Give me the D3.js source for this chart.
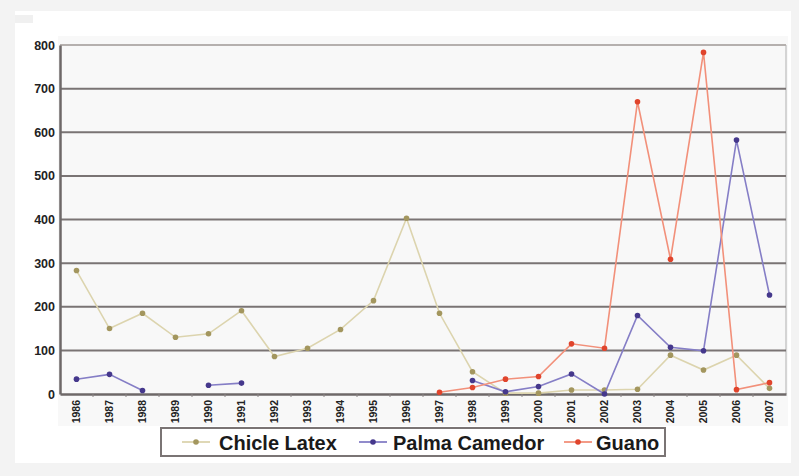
<!DOCTYPE html>
<html><head><meta charset="utf-8">
<script src="https://cdn.jsdelivr.net/npm/d3@7"></script>
<style>
body{margin:0;background:#f3f3f3;}
svg{display:block;font-family:"Liberation Sans",Arial,sans-serif;}
</style></head>
<body><svg id="c" width="799" height="476"></svg>
<script>
const years = ["1986","1987","1988","1989","1990","1991","1992","1993","1994","1995","1996","1997","1998","1999","2000","2001","2002","2003","2004","2005","2006","2007"];
const chicleLatex = [283,150,185,130,138,191,86,105,148,214,403,185,51,2,2,9,9,11,89,55,89,13];
const palmaCamedor = [34,45,8,null,20,25,null,null,null,null,null,null,31,5,17,46,0,180,107,99,582,227];
const guano = [null,null,null,null,null,null,null,null,null,null,null,4,15,34,40,115,105,670,309,783,10,26];
const yTicks = [0,100,200,300,400,500,600,700,800];
const seriesNames = ["Chicle Latex","Palma Camedor","Guano"];

const series = [
  {name:seriesNames[0], values:chicleLatex, line:"#dcd4ae", dot:"#a3965e"},
  {name:seriesNames[1], values:palmaCamedor, line:"#857ec6", dot:"#45388c"},
  {name:seriesNames[2], values:guano, line:"#f2907a", dot:"#e0442c"}
];

const svg = d3.select("#c");
svg.append("rect").attr("x",15).attr("y",11).attr("width",776).attr("height",452).attr("fill","#ffffff");
svg.append("rect").attr("x",15).attr("y",15).attr("width",18).attr("height",8).attr("fill","#f0f0f0");

const m = {left:60, right:786, top:45, bottom:394};
const x = d3.scaleBand().domain(years).range([m.left, m.right]);
const y = d3.scaleLinear().domain([0,800]).range([m.bottom, m.top]);

svg.append("rect").attr("x",58).attr("y",36).attr("width",730).attr("height",390).attr("fill","#f8f8f8");
svg.append("line").attr("x1",m.right).attr("x2",m.right).attr("y1",m.top).attr("y2",m.bottom).attr("stroke","#c8c8c8").attr("stroke-width",1.5);

svg.append("g").selectAll("line").data(yTicks.filter(d=>d>0)).join("line")
  .attr("x1",m.left).attr("x2",m.right)
  .attr("y1",d=>y(d)).attr("y2",d=>y(d))
  .attr("stroke",d=>d===800?"#b5b0ae":"#7a7474").attr("stroke-width",2);

const yAxis = svg.append("g").attr("transform",`translate(${m.left},0)`)
  .call(d3.axisLeft(y).tickValues(yTicks).tickSize(0).tickPadding(5));
yAxis.select(".domain").attr("stroke","#6e6868").attr("stroke-width",2.5);
yAxis.selectAll("text").attr("font-size",12.5).attr("font-weight","bold").attr("fill","#222");

const xAxis = svg.append("g").attr("transform",`translate(0,${m.bottom})`)
  .call(d3.axisBottom(x).tickSize(0).tickSizeOuter(0));
xAxis.select(".domain").attr("stroke","#6e6868").attr("stroke-width",2.5);
xAxis.selectAll("text")
  .attr("transform","rotate(-90)")
  .attr("text-anchor","end")
  .attr("x",-6).attr("y",0).attr("dy","0.35em")
  .attr("font-size",10.5).attr("font-weight","bold").attr("fill","#222");
svg.append("g").selectAll("line").data(years.slice(1)).join("line")
  .attr("x1",d=>x(d)).attr("x2",d=>x(d)).attr("y1",m.bottom).attr("y2",m.bottom+3)
  .attr("stroke","#8a8484").attr("stroke-width",1);

const line = d3.line().defined(d=>d.v!==null).x(d=>x(d.k)+x.bandwidth()/2).y(d=>y(d.v));
series.forEach(s=>{
  const pts = years.map((k,i)=>({k, v:s.values[i]}));
  svg.append("path").datum(pts).attr("d",line).attr("fill","none")
    .attr("stroke",s.line).attr("stroke-width",1.6);
  svg.append("g").selectAll("circle").data(pts.filter(d=>d.v!==null)).join("circle")
    .attr("cx",d=>x(d.k)+x.bandwidth()/2).attr("cy",d=>y(d.v)).attr("r",2.8)
    .attr("fill",s.dot);
});

const lg = svg.append("g");
lg.append("rect").attr("x",161).attr("y",428).attr("width",504).attr("height",28)
  .attr("fill","#ffffff").attr("stroke","#7a7474").attr("stroke-width",2);
const legendPos = [{mx:196, tx:219},{mx:373, tx:393},{mx:578, tx:596}];
series.forEach((s,i)=>{
  const p = legendPos[i];
  lg.append("line").attr("x1",p.mx-14).attr("x2",p.mx+14).attr("y1",442).attr("y2",442)
    .attr("stroke",s.line).attr("stroke-width",1.8);
  lg.append("circle").attr("cx",p.mx).attr("cy",442).attr("r",2.8).attr("fill",s.dot);
  lg.append("text").attr("x",p.tx).attr("y",449.5).attr("font-size",20).attr("font-weight","bold")
    .attr("fill","#1a1a1a").text(s.name);
});
</script></body></html>
